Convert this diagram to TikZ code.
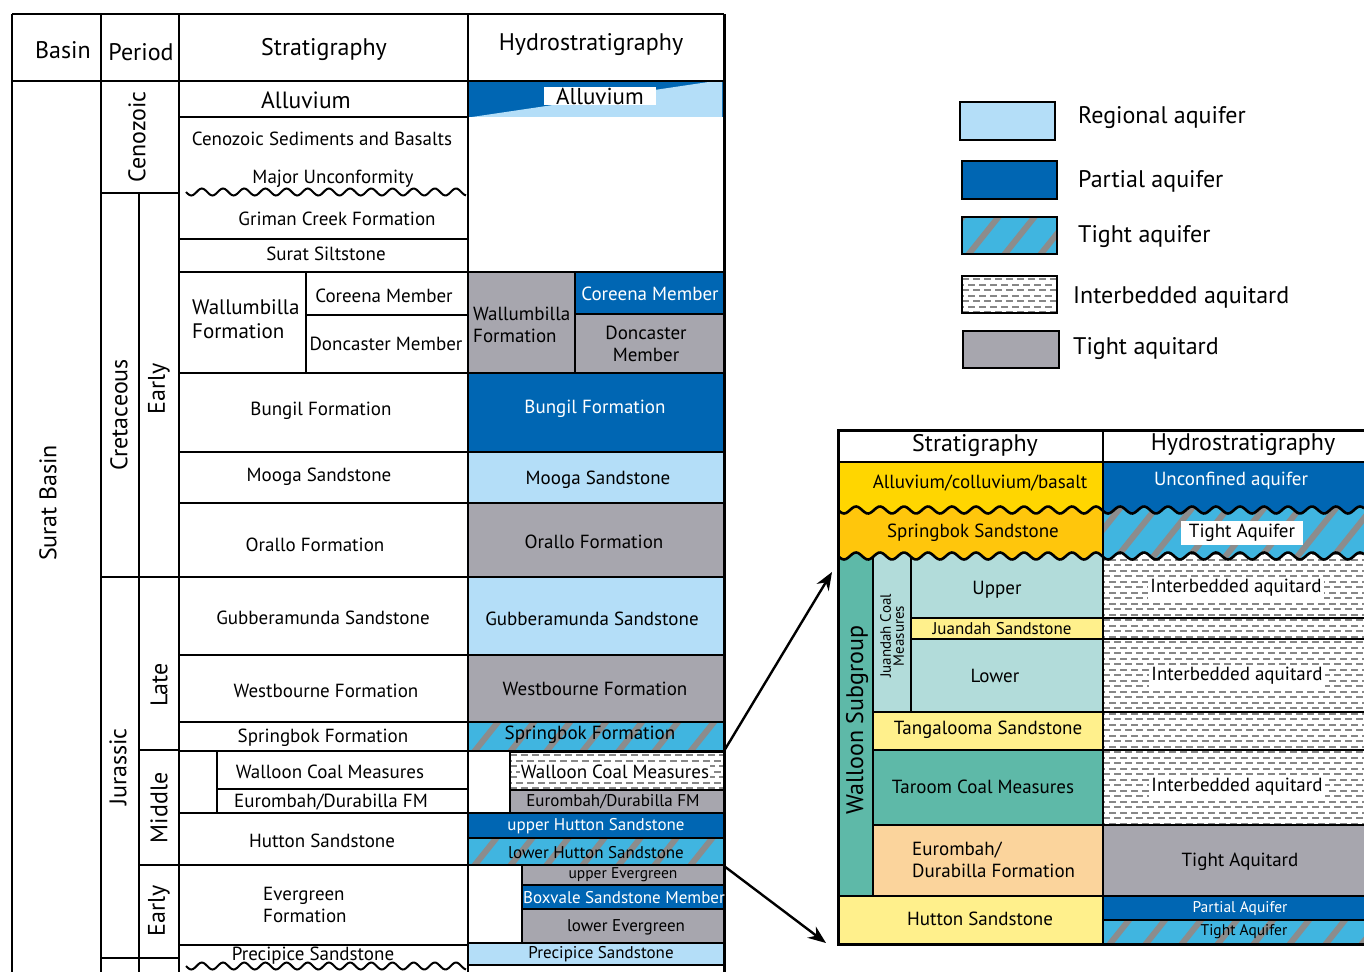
\documentclass[tikz,border=0pt]{standalone}
\usepackage{fontspec}
\setmainfont{PT Sans}
\usetikzlibrary{arrows.meta}
\definecolor{regblue}{RGB}{180,222,248}
\definecolor{partblue}{RGB}{0,102,179}
\definecolor{tacyan}{RGB}{64,181,224}
\definecolor{stripegray}{RGB}{140,140,140}
\definecolor{aqgray}{RGB}{167,166,174}
\definecolor{dashgray}{RGB}{135,135,135}
\definecolor{alluv}{RGB}{255,214,0}
\definecolor{sprsand}{RGB}{255,198,12}
\definecolor{walteal}{RGB}{94,185,168}
\definecolor{juanlight}{RGB}{178,220,218}
\definecolor{lightyel}{RGB}{255,240,140}
\definecolor{peach}{RGB}{251,212,156}
\tikzset{
 grid/.style={line width=2.4pt},
 hcell/.style={draw=black, line width=2pt},
 stripe/.style={draw=stripegray, line width=6pt},
 dashline/.style={draw=dashgray, line width=2pt, dash pattern=on 7pt off 4pt},
 hdr/.style={font=\fontsize{24}{27}\selectfont, inner sep=0pt},
 txt/.style={font=\fontsize{19}{22}\selectfont, inner sep=0pt},
 sml/.style={font=\fontsize{17}{19}\selectfont, inner sep=0pt},
 xsm/.style={font=\fontsize{15.5}{17}\selectfont, inner sep=0pt},
 tiny/.style={font=\fontsize{15}{13}\selectfont, inner sep=0pt, align=center},
 lgd/.style={font=\fontsize{24}{27}\selectfont, inner sep=0pt, anchor=west},
 wtxt/.style={text=white},
 legbox/.style={draw=black, line width=2.5pt},
 conn/.style={line width=2.4pt, -{Stealth[length=18pt,width=14pt]}},
}
\newcommand{\HatchBox}[4]{%
 \begin{scope}
 \clip (#1,#2) rectangle (#3,#4);
 \fill[tacyan] (#1,#2) rectangle (#3,#4);
 \foreach \s in {0,36,...,720} {
   \draw[stripe] ({#1-70+\s},{#4+6}) -- ++({0.8*(#4-#2+12)},{-(#4-#2+12)});
 }
 \end{scope}}
\newcommand{\InterBox}[4]{%
 \begin{scope}
 \clip (#1,#2) rectangle (#3,#4);
 \fill[white] (#1,#2) rectangle (#3,#4);
 \foreach \r in {0,...,55} {
   \pgfmathsetmacro{\yy}{#2+3+\r*5.5}
   \pgfmathsetmacro{\ph}{mod(\r,2)*5}
   \draw[dashline, dash phase=\ph pt] (#1,\yy) -- (#3,\yy);
 }
 \end{scope}}
\begin{document}
\begin{tikzpicture}[x=1pt,y=-1pt]
\clip (0,0) rectangle (1364,971);
\fill[white] (0,0) rectangle (1364,971);

% ================= LEFT HYDRO COLUMN FILLS =================
\fill[partblue] (468,81) rectangle (724,117);
\fill[regblue] (472,117) -- (722,117) -- (722,80) -- cycle;
\path[hcell,fill=aqgray] (468,272) rectangle (575,373);
\path[hcell,fill=partblue] (575,272) rectangle (724,314);
\path[hcell,fill=aqgray] (575,314) rectangle (724,373);
\path[hcell,fill=partblue] (468,373) rectangle (724,452);
\path[hcell,fill=regblue] (468,452) rectangle (724,503);
\path[hcell,fill=aqgray] (468,503) rectangle (724,577);
\path[hcell,fill=regblue] (468,577) rectangle (724,655);
\path[hcell,fill=aqgray] (468,655) rectangle (724,722);
\HatchBox{468}{722}{724}{751}
\path[hcell] (468,722) rectangle (724,751);
\InterBox{510}{752}{724}{790}
\path[hcell] (510,752) rectangle (724,790);
\path[hcell,fill=aqgray] (510,790) rectangle (724,813);
\path[hcell,fill=partblue] (468,813) rectangle (724,838);
\HatchBox{468}{838}{724}{865}
\path[hcell] (468,838) rectangle (724,865);
\draw[line width=2.4pt, dash pattern=on 8pt off 5pt] (468,838) -- (724,838);
\path[hcell,fill=aqgray] (522,865) rectangle (724,885);
\path[hcell,fill=partblue] (522,885) rectangle (724,909);
\path[hcell,fill=aqgray] (522,909) rectangle (724,943);
\path[hcell,fill=regblue] (468,943) rectangle (724,965);

% ================= LEFT TABLE GRID =================
\draw[grid] (12,14) -- (724,14);
\draw[grid] (12,14) -- (12,975);
\draw[grid] (101,14) -- (101,975);
\draw[grid] (179,14) -- (179,975);
\draw[grid] (468,14) -- (468,975);
\draw[line width=3pt] (724,14) -- (724,975);
\draw[grid] (12,81) -- (724,81);
\draw[grid] (139,193) -- (139,975);
\draw[grid] (101,193) -- (179,193);
\draw[grid] (101,577) -- (468,577);
\draw[grid] (139,750) -- (179,750);
\draw[grid] (139,865) -- (468,865);
\draw[grid] (101,958) -- (179,958);
\foreach \yy in {117,239,272,373,452,503,655,722,751,813,945}
  \draw[grid] (179,\yy) -- (468,\yy);
\draw[grid] (306,272) -- (306,373);
\draw[grid] (306,315) -- (468,315);
\draw[grid] (217,751) -- (217,813);
\draw[grid] (217,789) -- (468,789);
\draw[line width=2pt] plot[domain=0:280, samples=160, smooth] ({186+\x},{192+3.5*sin(\x*17)});
\draw[line width=2pt] plot[domain=0:280, samples=160, smooth] ({186+\x},{966+3.5*sin(\x*17)});

% ================= LEFT TABLE TEXT =================
\node[hdr] (hBasin) at (63,50) {Basin};
\node[hdr] (hPeriod) at (141,52) {Period};
\node[hdr] (hStrat) at (324,50) {Stratigraphy};
\node[hdr] (hHydro) at (591,45) {Hydrostratigraphy};
\node[hdr, rotate=90] (tSurat) at (48,503) {Surat Basin};
\node[hdr, rotate=90] (tCeno) at (137,137) {Cenozoic};
\node[hdr, rotate=90] (tCret) at (119,415) {Cretaceous};
\node[hdr, rotate=90] (tEarlyK) at (159,389) {Early};
\node[hdr, rotate=90] (tJur) at (118,767) {Jurassic};
\node[hdr, rotate=90] (tLate) at (159,685) {Late};
\node[hdr, rotate=90] (tMid) at (159,808) {Middle};
\node[hdr, rotate=90] (tEarlyJ) at (159,911) {Early};

\node[font=\fontsize{23.5}{26}\selectfont, inner sep=0pt] (sAll) at (306,100) {Alluvium};
\node[txt] (sCeno) at (322,139) {Cenozoic Sediments and Basalts};
\node[txt] (sMaj) at (333,179) {Major Unconformity};
\node[txt] (sGrim) at (337,219) {Griman Creek Formation};
\node[txt] (sSurat) at (326,254) {Surat Siltstone};
\node[font=\fontsize{21}{24}\selectfont, inner sep=0pt, align=left, anchor=west] (sWall) at (192,319) {Wallumbilla\\Formation};
\node[txt] (sCor) at (384,296) {Coreena Member};
\node[txt] (sDon) at (386,344) {Doncaster Member};
\node[txt] (sBun) at (321,411) {Bungil Formation};
\node[txt] (sMoo) at (319,477) {Mooga Sandstone};
\node[txt] (sOra) at (315,545) {Orallo Formation};
\node[txt] (sGub) at (323,618) {Gubberamunda Sandstone};
\node[txt] (sWes) at (326,691) {Westbourne Formation};
\node[txt] (sSpr) at (323,738) {Springbok Formation};
\node[txt] (sWal) at (330,772) {Walloon Coal Measures};
\node[txt] (sEur) at (331,802) {Eurombah/Durabilla FM};
\node[txt] (sHut) at (322,841) {Hutton Sandstone};
\node[txt, align=left, anchor=west] (sEve) at (263,905) {Evergreen\\Formation};
\node[txt] (sPre) at (313,956) {Precipice Sandstone};

\node[font=\fontsize{23}{26}\selectfont, fill=white, inner xsep=12pt, inner ysep=1pt] (hAll) at (600,96) {Alluvium};
\node[txt, align=left, anchor=west] (hWall) at (473,325) {Wallumbilla\\Formation};
\node[txt, wtxt] (hCor) at (650,294) {Coreena Member};
\node[txt, align=center] (hDon) at (646,344) {Doncaster\\Member};
\node[txt, wtxt] (hBun) at (595,409) {Bungil Formation};
\node[txt] (hMoo) at (598,480) {Mooga Sandstone};
\node[txt] (hOra) at (594,542) {Orallo Formation};
\node[txt] (hGub) at (592,619) {Gubberamunda Sandstone};
\node[txt] (hWes) at (595,689) {Westbourne Formation};
\node[txt] (hSpr) at (590,735) {Springbok Formation};
\node[txt, fill=white, inner sep=1pt] (hWal) at (615,772) {Walloon Coal Measures};
\node[sml] (hEur) at (613,802) {Eurombah/Durabilla FM};
\node[sml, wtxt] (hUH) at (596,826) {upper Hutton Sandstone};
\node[sml] (hLH) at (596,853) {lower Hutton Sandstone};
\node[xsm] (hUE) at (623,875) {upper Evergreen};
\node[sml, wtxt] (hBox) at (624,898) {Boxvale Sandstone Member};
\node[sml] (hLE) at (626,927) {lower Evergreen};
\node[sml] (hPre) at (601,954) {Precipice Sandstone};

% ================= LEGEND =================
\path[legbox, fill=regblue] (960,102) rectangle (1055,140);
\path[legbox, fill=partblue] (962,161) rectangle (1057,199);
\HatchBox{962}{217}{1057}{254}
\path[legbox] (962,217) rectangle (1057,254);
\InterBox{962}{276}{1057}{313}
\path[legbox] (962,276) rectangle (1057,313);
\path[legbox, fill=aqgray] (963,331) rectangle (1059,368);
\node[lgd] (lReg) at (1078,118) {Regional aquifer};
\node[lgd] (lPar) at (1078,181) {Partial aquifer};
\node[lgd] (lTia) at (1078,237) {Tight aquifer};
\node[lgd] (lInt) at (1073,297) {Interbedded aquitard};
\node[lgd] (lTit) at (1073,349) {Tight aquitard};

% ================= INSET =================
\fill[alluv] (838,462) rectangle (1103,530);
\fill[walteal] (838,540) rectangle (873,896);
\fill[juanlight] (873,540) rectangle (1103,712);
\fill[lightyel] (911,618) rectangle (1103,639);
\fill[lightyel] (873,712) rectangle (1103,750);
\fill[walteal] (873,750) rectangle (1103,825);
\fill[peach] (873,825) rectangle (1103,896);
\fill[lightyel] (838,896) rectangle (1103,944);
\fill[sprsand] plot[domain=0:265, samples=120, smooth] ({838+\x},{510+3.5*sin(\x*15)})
  -- plot[domain=0:265, samples=120, smooth] ({1103-\x},{556+3.5*sin((265-\x)*15)}) -- cycle;

\fill[partblue] (1103,462) rectangle (1364,530);
\InterBox{1103}{540}{1364}{825}
\fill[aqgray] (1103,825) rectangle (1364,896);
\fill[partblue] (1103,896) rectangle (1364,920);
\HatchBox{1103}{920}{1364}{944}
\begin{scope}
\clip plot[domain=265:526, samples=120, smooth] ({838+\x},{510+3.5*sin(\x*15)})
  -- plot[domain=0:261, samples=120, smooth] ({1364-\x},{556+3.5*sin((526-\x)*15)}) -- cycle;
\HatchBox{1103}{500}{1364}{566}
\end{scope}
\draw[line width=2.6pt] plot[domain=0:526, samples=260, smooth] ({838+\x},{510+3.5*sin(\x*15)});
\draw[line width=2.6pt] plot[domain=0:526, samples=260, smooth] ({838+\x},{556+3.5*sin(\x*15)});

\draw[line width=3pt] (838,430) rectangle (1372,944);
\draw[grid] (838,462) -- (1372,462);
\draw[grid] (1103,430) -- (1103,944);
\draw[grid] (873,556) -- (873,896);
\draw[grid] (911,556) -- (911,712);
\draw[grid] (911,618) -- (1372,618);
\draw[grid] (911,639) -- (1372,639);
\draw[grid] (873,712) -- (1372,712);
\draw[grid] (873,750) -- (1372,750);
\draw[grid] (873,825) -- (1372,825);
\draw[grid] (838,896) -- (1372,896);
\draw[grid] (1103,920) -- (1372,920);

\node[hdr] (iStrat) at (975,445) {Stratigraphy};
\node[hdr] (iHydro) at (1243,445) {Hydrostratigraphy};
\node[txt] (iAll) at (980,483) {Alluvium/colluvium/basalt};
\node[txt] (iSpr) at (973,533) {Springbok Sandstone};
\node[font=\fontsize{24}{26}\selectfont, inner sep=0pt, rotate=90] (iWal) at (857,720) {Walloon Subgroup};
\node[tiny, rotate=90] (iJua) at (892,636) {Juandah Coal\\Measures};
\node[txt] (iUp) at (997,590) {Upper};
\node[sml] (iJS) at (1002,629) {Juandah Sandstone};
\node[txt] (iLo) at (995,676) {Lower};
\node[txt] (iTan) at (988,730) {Tangalooma Sandstone};
\node[txt] (iTar) at (983,787) {Taroom Coal Measures};
\node[txt, align=left, anchor=west] (iEur) at (912,860) {Eurombah/\\Durabilla Formation};
\node[txt] (iHut) at (980,919) {Hutton Sandstone};
\node[txt, wtxt] (iUnc) at (1231,481) {Unconfined aquifer};
\node[txt, fill=white, inner xsep=8pt, inner ysep=3pt] (iTA) at (1242,533) {Tight Aquifer};
\node[txt, fill=white, inner sep=2pt] (iIA1) at (1236,588) {Interbedded aquitard};
\node[txt, fill=white, inner sep=2pt] (iIA2) at (1237,676) {Interbedded aquitard};
\node[txt, fill=white, inner sep=2pt] (iIA3) at (1237,787) {Interbedded aquitard};
\node[txt] (iTAq) at (1240,862) {Tight Aquitard};
\node[xsm, wtxt] (iPA) at (1240,909) {Partial Aquifer};
\node[xsm] (iTA2) at (1244,932) {Tight Aquifer};

% ================= CONNECTORS =================
\coordinate (a1s) at (724,751);
\coordinate (a1e) at (832,572);
\coordinate (a2s) at (724,866);
\coordinate (a2e) at (826,943);
\draw[conn] (a1s) -- (a1e);
\draw[conn] (a2s) -- (a2e);
\end{tikzpicture}
\end{document}
